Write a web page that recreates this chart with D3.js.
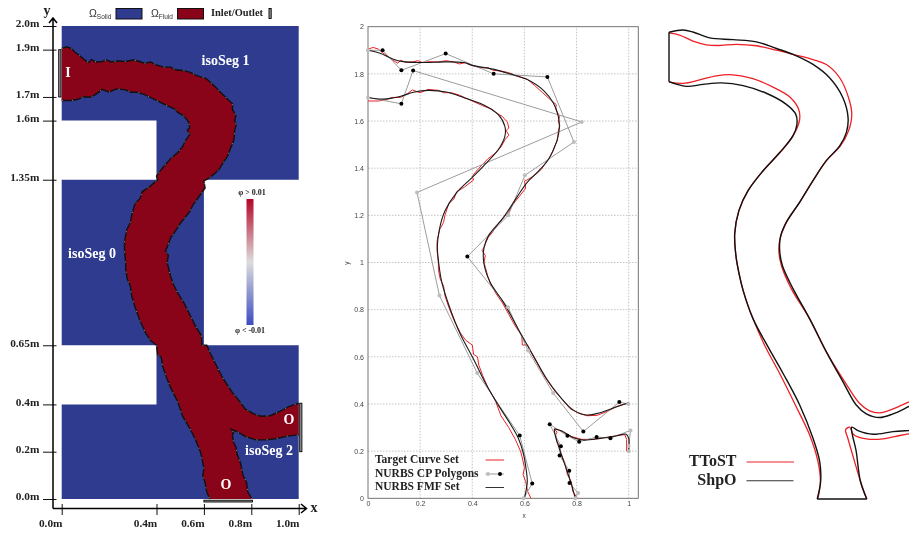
<!DOCTYPE html>
<html><head><meta charset="utf-8">
<script src="https://cdnjs.cloudflare.com/ajax/libs/d3/7.8.5/d3.min.js"></script>
<style>html,body{margin:0;padding:0;background:#fff}svg{display:block;filter:blur(0.3px)}</style>
</head><body><svg id="c" width="909" height="534"></svg>
<script>
// ---------- data (all in domain units) ----------
const xTicksDomain = [0, 0.4, 0.6, 0.8, 1.0];
const yTicksDomain = [0, 0.2, 0.4, 0.65, 1.35, 1.6, 1.7, 1.9, 2.0];
const gridTicksX = [0, 0.2, 0.4, 0.6, 0.8, 1];
const gridTicksY = [0, 0.2, 0.4, 0.6, 0.8, 1, 1.2, 1.4, 1.6, 1.8, 2];

const solidOutline = [[0,2],[1,2],[1,1.35],[0.6,1.35],[0.6,0.65],[1,0.65],[1,0],[0,0],[0,0.4],[0.4,0.4],[0.4,0.65],[0,0.65],[0,1.35],[0.4,1.35],[0.4,1.6],[0,1.6]];

// target (jagged) level-set contours
const targetSeg1 = [[0,1.905],[0.02,1.912],[0.04,1.905],[0.055,1.89],[0.075,1.875],[0.095,1.858],[0.115,1.845],[0.125,1.858],[0.145,1.848],[0.17,1.85],[0.19,1.856],[0.21,1.848],[0.235,1.852],[0.27,1.85],[0.3,1.856],[0.33,1.85],[0.35,1.842],[0.375,1.848],[0.4,1.835],[0.43,1.826],[0.46,1.826],[0.48,1.815],[0.51,1.812],[0.54,1.805],[0.57,1.79],[0.61,1.778],[0.64,1.75],[0.67,1.72],[0.7,1.69],[0.722,1.67],[0.72,1.65],[0.735,1.62],[0.73,1.6],[0.736,1.58],[0.73,1.56],[0.727,1.52],[0.715,1.49],[0.7,1.45],[0.68,1.42],[0.665,1.395],[0.645,1.375],[0.625,1.36],[0.61,1.35],[0.6,1.345],[0.605,1.315],[0.58,1.28],[0.555,1.245],[0.54,1.215],[0.52,1.19],[0.5,1.165],[0.475,1.125],[0.46,1.105],[0.445,1.065],[0.438,1.05],[0.45,1.03],[0.445,1.0],[0.45,0.98],[0.46,0.94],[0.47,0.91],[0.49,0.87],[0.515,0.83],[0.54,0.78],[0.565,0.73],[0.59,0.69],[0.592,0.65],[0.612,0.65],[0.63,0.61],[0.65,0.57],[0.675,0.52],[0.7,0.48],[0.72,0.45],[0.745,0.42],[0.775,0.38],[0.81,0.36],[0.84,0.35],[0.88,0.352],[0.92,0.37],[0.96,0.392],[1,0.405]];
const targetSeg0 = [[0,1.685],[0.04,1.685],[0.07,1.69],[0.09,1.7],[0.125,1.7],[0.15,1.715],[0.17,1.732],[0.2,1.72],[0.23,1.734],[0.27,1.73],[0.29,1.72],[0.32,1.72],[0.35,1.71],[0.4,1.685],[0.44,1.665],[0.475,1.65],[0.49,1.635],[0.515,1.62],[0.535,1.595],[0.54,1.57],[0.53,1.56],[0.54,1.54],[0.525,1.52],[0.51,1.49],[0.49,1.465],[0.46,1.44],[0.43,1.405],[0.41,1.38],[0.4,1.365],[0.405,1.35],[0.37,1.32],[0.34,1.3],[0.33,1.27],[0.31,1.25],[0.295,1.2],[0.29,1.17],[0.275,1.14],[0.265,1.09],[0.265,1.05],[0.27,1.0],[0.27,0.97],[0.277,0.93],[0.29,0.9],[0.295,0.86],[0.31,0.81],[0.33,0.755],[0.355,0.7],[0.375,0.67],[0.4,0.65],[0.405,0.61],[0.42,0.6],[0.425,0.565],[0.44,0.52],[0.46,0.47],[0.49,0.41],[0.51,0.35],[0.54,0.3],[0.565,0.25],[0.585,0.2],[0.59,0.18],[0.6,0.13],[0.595,0.1],[0.605,0.07],[0.612,0.03],[0.625,0]];
const targetSeg2 = [[0.803,0],[0.785,0.03],[0.78,0.07],[0.765,0.1],[0.755,0.15],[0.74,0.19],[0.735,0.22],[0.725,0.24],[0.72,0.27],[0.725,0.28],[0.715,0.295],[0.74,0.285],[0.78,0.262],[0.82,0.25],[0.86,0.25],[0.9,0.255],[0.95,0.265],[0.985,0.27],[0.992,0.25],[0.992,0.2]];

// NURBS fitted curves
const fmfSeg1 = [[0,1.9],[0.046,1.887],[0.097,1.862],[0.135,1.852],[0.2,1.848],[0.3,1.851],[0.366,1.848],[0.404,1.835],[0.48,1.82],[0.545,1.8],[0.609,1.777],[0.673,1.73],[0.711,1.676],[0.73,1.62],[0.734,1.57],[0.724,1.514],[0.692,1.437],[0.647,1.38],[0.609,1.338],[0.57,1.275],[0.519,1.19],[0.462,1.113],[0.445,1.063],[0.444,1.0],[0.468,0.917],[0.519,0.832],[0.59,0.69],[0.634,0.605],[0.685,0.507],[0.737,0.43],[0.788,0.374],[0.839,0.353],[0.89,0.363],[0.954,0.388],[1,0.405]];
const fmfSeg0 = [[0,1.7],[0.059,1.693],[0.123,1.704],[0.174,1.722],[0.231,1.73],[0.3,1.723],[0.366,1.7],[0.442,1.669],[0.5,1.627],[0.525,1.577],[0.525,1.535],[0.5,1.479],[0.442,1.408],[0.398,1.359],[0.34,1.296],[0.295,1.218],[0.274,1.141],[0.266,1.07],[0.271,1.0],[0.283,0.917],[0.315,0.804],[0.353,0.699],[0.404,0.592],[0.455,0.479],[0.5,0.395],[0.545,0.317],[0.577,0.254],[0.596,0.19],[0.606,0.127],[0.611,0.07],[0.6,0]];
const fmfSeg2 = [[0.795,0],[0.779,0.064],[0.76,0.127],[0.734,0.21],[0.718,0.268],[0.716,0.293],[0.742,0.286],[0.786,0.258],[0.825,0.247],[0.89,0.254],[0.954,0.265],[0.99,0.272],[1,0.254],[1,0.2]];

// control polygons: x, y, 1 when the control point is drawn black
const cpSeg1 = [[0,1.9,0],[0.056,1.9,1],[0.128,1.815,1],[0.298,1.886,1],[0.482,1.8,1],[0.688,1.787,1],[0.79,1.511,0],[0.602,1.37,0],[0.538,1.2,0],[0.381,1.025,1],[0.537,0.81,0],[0.614,0.627,0],[0.71,0.447,0],[0.826,0.283,1],[0.964,0.408,1],[0.998,0.4,0]];
const cpSeg0 = [[0,1.7,0],[0.128,1.673,1],[0.173,1.814,1],[0.82,1.596,0],[0.188,1.297,0],[0.274,0.86,0],[0.419,0.531,0],[0.582,0.266,1],[0.63,0.063,1],[0.597,0,0]];
const cpSeg2 = [[0.795,0,0],[0.806,0.022,0],[0.773,0.065,1],[0.772,0.117,1],[0.735,0.182,1],[0.74,0.221,1],[0.697,0.314,1],[0.765,0.265,1],[0.81,0.24,1],[0.877,0.26,1],[0.93,0.255,1],[1.007,0.288,0],[1.0,0.222,0],[1.0,0.2,0]];

// optimised shapes
const shpoTop = [[0,1.895],[0.057,1.904],[0.097,1.896],[0.165,1.872],[0.259,1.865],[0.354,1.856],[0.435,1.829],[0.502,1.805],[0.583,1.764],[0.65,1.71],[0.704,1.629],[0.725,1.548],[0.718,1.487],[0.691,1.433],[0.637,1.373],[0.583,1.292],[0.529,1.204],[0.475,1.123],[0.451,1.062],[0.448,1.008],[0.459,0.947],[0.502,0.853],[0.569,0.731],[0.637,0.596],[0.704,0.475],[0.758,0.38],[0.799,0.344],[0.853,0.329],[0.907,0.344],[0.97,0.373],[1.01,0.392]];
const shpoLow = [[0,1.694],[0.07,1.675],[0.138,1.683],[0.212,1.689],[0.3,1.678],[0.394,1.647],[0.475,1.602],[0.513,1.562],[0.518,1.521],[0.502,1.474],[0.448,1.406],[0.381,1.332],[0.32,1.251],[0.283,1.17],[0.266,1.076],[0.27,0.995],[0.277,0.947],[0.3,0.846],[0.34,0.731],[0.401,0.616],[0.462,0.508],[0.529,0.38],[0.583,0.245],[0.61,0.151],[0.614,0.07],[0.6,-0.002]];
const shpoRight = [[0.801,-0.002],[0.775,0.07],[0.758,0.191],[0.74,0.29],[0.765,0.276],[0.826,0.261],[0.907,0.272],[0.97,0.276],[1.01,0.278]];
const shpoInlet = [[0,1.895],[0,1.694]];
const shpoOutlet = [[0.6,-0.002],[0.801,-0.002]];
const ttostTop = [[0,1.892],[0.043,1.883],[0.097,1.859],[0.151,1.844],[0.198,1.841],[0.273,1.846],[0.354,1.84],[0.435,1.822],[0.502,1.805],[0.583,1.784],[0.637,1.764],[0.691,1.71],[0.727,1.629],[0.74,1.562],[0.727,1.494],[0.694,1.433],[0.637,1.373],[0.583,1.292],[0.529,1.204],[0.472,1.116],[0.448,1.049],[0.445,1.002],[0.455,0.947],[0.495,0.853],[0.569,0.731],[0.637,0.596],[0.711,0.475],[0.771,0.387],[0.812,0.356],[0.853,0.348],[0.907,0.364],[0.97,0.392],[1.01,0.41]];
const ttostLow = [[0,1.692],[0.057,1.687],[0.124,1.701],[0.192,1.718],[0.259,1.722],[0.34,1.706],[0.421,1.672],[0.489,1.632],[0.525,1.582],[0.529,1.541],[0.513,1.494],[0.462,1.42],[0.381,1.332],[0.32,1.251],[0.283,1.17],[0.266,1.076],[0.27,0.995],[0.277,0.947],[0.3,0.846],[0.34,0.731],[0.387,0.623],[0.448,0.508],[0.515,0.373],[0.569,0.259],[0.603,0.151],[0.613,0.07],[0.603,0]];
const ttostRight = [[0.799,0],[0.775,0.07],[0.751,0.151],[0.724,0.245],[0.715,0.279],[0.731,0.29],[0.748,0.259],[0.799,0.242],[0.866,0.242],[0.934,0.256],[0.97,0.263],[1.01,0.27]];

const colorbarStops = [[0,"#3b4cc0"],[0.5,"#dddddd"],[1,"#b40426"]];

// ---------- drawing ----------
const svg = d3.select("#c");
const SERIF = "'Liberation Serif',serif", SANS = "'Liberation Sans',sans-serif";
const BLUE = "#2e3b8e", CRIM = "#8a0419", RED = "#ee2025";
const defs = svg.append("defs");

function txt(g,x,y,s,o={}){
  return g.append("text").attr("x",x).attr("y",y).text(s)
   .attr("font-family",o.ff||SERIF).attr("font-weight",o.w||"bold").attr("font-size",o.fs||10)
   .attr("fill",o.c||"#222").attr("text-anchor",o.a||"start").attr("dominant-baseline","middle");
}

// ===== Panel A =====
const xA = d3.scaleLinear().domain([0,1]).range([61.7,298.7]);
const yA = d3.scaleLinear().domain([0,2]).range([499,26]);
const A = svg.append("g");
const lineA = d3.line().x(d=>xA(d[0])).y(d=>yA(d[1]));
A.append("path").attr("d",lineA(solidOutline)+"Z").attr("fill",BLUE);
const fluid = targetSeg1.concat([[1,0.27]], targetSeg2.slice(0,-2).reverse(), targetSeg0.slice().reverse());
A.append("path").attr("d",lineA(fluid)+"Z").attr("fill",CRIM);
[targetSeg0,targetSeg1,targetSeg2.slice(0,-2).concat([[1,0.27]])].forEach(s=>{
  A.append("path").attr("d",lineA(s)).attr("fill","none").attr("stroke","#111").attr("stroke-width",1.4);
  A.append("path").attr("d",lineA(s)).attr("fill","none").attr("stroke","#8a8a8a").attr("stroke-width",1)
    .attr("stroke-dasharray","1.2 9");
});
// inlet/outlet bars
const bar=(x,y,w,h)=>A.append("rect").attr("x",x).attr("y",y).attr("width",w).attr("height",h)
  .attr("fill","#999").attr("stroke","#000").attr("stroke-width",0.9);
bar(xA(0)-3,yA(1.9),2.2,yA(1.7)-yA(1.9));
bar(xA(1)+1,yA(0.405),2.2,yA(0.2)-yA(0.405));
bar(xA(0.6),yA(0)+1.2,xA(0.805)-xA(0.6),1.8);
// axes
const axY = d3.axisLeft(yA).tickValues(yTicksDomain).tickSize(0).tickFormat(d=>d3.format(".2~f")(d).replace(/^(\d)$/,"$1.0")+"m");
const gy = A.append("g").attr("transform","translate(53,0)").call(axY);
gy.select(".domain").remove();
gy.selectAll(".tick line").attr("x1",-10).attr("x2",3.5).attr("stroke","#111").attr("stroke-width",1);
gy.selectAll(".tick text").attr("x",-13.7).attr("y",-2.7).attr("font-family",SERIF).attr("font-weight","bold").attr("font-size",11.3).attr("fill","#222");
const axX = d3.axisBottom(xA).tickValues(xTicksDomain).tickSize(0).tickFormat(d=>d3.format(".1f")(d)+"m");
const gx = A.append("g").attr("transform","translate(0,508.5)").call(axX);
gx.select(".domain").remove();
gx.selectAll(".tick line").attr("y1",-4.5).attr("y2",6.5).attr("stroke","#111").attr("stroke-width",1);
gx.selectAll(".tick text").attr("x",-11.5).attr("y",10).attr("font-family",SERIF).attr("font-weight","bold").attr("font-size",11.3).attr("fill","#222");
A.append("path").attr("d","M53,508.5V18M49,23L53,18L57,23M53,508.5H306M301,504L306.5,508.5L301,513")
  .attr("fill","none").attr("stroke","#000").attr("stroke-width",1.5);
txt(A,47,12,"y",{fs:14,a:"middle"}); txt(A,314,509,"x",{fs:14,a:"middle"});
// region labels
[["I",68,74],["O",289,421],["O",226,486]].forEach(d=>txt(A,d[1],d[2],d[0],{fs:14,c:"#fff",a:"middle"}));
[["isoSeg 1",225.5,62],["isoSeg 0",92,255],["isoSeg 2",269,451.5]].forEach(d=>txt(A,d[1],d[2],d[0],{fs:14,c:"#fff",a:"middle"}));
// top legend
const om=(x,s)=>{const t=txt(A,x,14,"Ω",{ff:SANS,w:"normal",fs:10.5,c:"#333"});
  t.append("tspan").attr("font-size",6.5).attr("dy",2.5).text(s);};
om(89,"Solid"); om(151,"Fluid");
A.append("rect").attr("x",116).attr("y",8.5).attr("width",26).attr("height",10.5).attr("fill",BLUE).attr("stroke","#111");
A.append("rect").attr("x",177.5).attr("y",8.5).attr("width",26).attr("height",10.5).attr("fill",CRIM).attr("stroke","#111");
txt(A,211,14,"Inlet/Outlet",{fs:10.4});
A.append("rect").attr("x",269).attr("y",8.5).attr("width",2.2).attr("height",10).attr("fill","#999").attr("stroke","#000").attr("stroke-width",0.9);
// colour bar
const grad = defs.append("linearGradient").attr("id","cb").attr("x1",0).attr("x2",0).attr("y1",1).attr("y2",0);
colorbarStops.forEach(s=>grad.append("stop").attr("offset",s[0]).attr("stop-color",s[1]));
A.append("rect").attr("x",246.5).attr("y",199).attr("width",7).attr("height",126).attr("fill","url(#cb)");
txt(A,252,193,"φ > 0.01",{fs:8,a:"middle"});
txt(A,250,331,"φ < -0.01",{fs:8,a:"middle"});

// ===== Panel B =====
const xB = d3.scaleLinear().domain([0,1]).range([368,628.7]);
const yB = d3.scaleLinear().domain([0,2]).range([498.3,26.7]);
const B = svg.append("g");
const bR = 638.3;
B.append("g").selectAll("line.gx").data(gridTicksX.slice(1)).join("line")
  .attr("x1",d=>xB(d)).attr("x2",d=>xB(d)).attr("y1",yB(0)).attr("y2",yB(2))
  .attr("stroke","#aaa").attr("stroke-width",0.7).attr("stroke-dasharray","1.5 1.5");
B.append("g").selectAll("line.gy").data(gridTicksY.slice(1,-1)).join("line")
  .attr("x1",xB(0)).attr("x2",bR).attr("y1",d=>yB(d)).attr("y2",d=>yB(d))
  .attr("stroke","#aaa").attr("stroke-width",0.7).attr("stroke-dasharray","1.5 1.5");
B.append("rect").attr("x",xB(0)).attr("y",yB(2)).attr("width",bR-xB(0)).attr("height",yB(0)-yB(2))
  .attr("fill","none").attr("stroke","#666").attr("stroke-width",0.9);
const bAxY = d3.axisLeft(yB).tickValues(gridTicksY).tickSize(0).tickPadding(4).tickFormat(d3.format("~g"));
const gby = B.append("g").attr("transform",`translate(${xB(0)},0)`).call(bAxY);
gby.select(".domain").remove();
gby.selectAll("text").attr("font-family",SANS).attr("font-size",7).attr("fill","#444");
const bAxX = d3.axisBottom(xB).tickValues(gridTicksX).tickSize(0).tickPadding(3).tickFormat(d3.format("~g"));
const gbx = B.append("g").attr("transform",`translate(0,${yB(0)})`).call(bAxX);
gbx.select(".domain").remove();
gbx.selectAll("text").attr("font-family",SANS).attr("font-size",7).attr("fill","#444");
txt(B,524,516,"x",{ff:SANS,w:"normal",fs:6.5,c:"#444",a:"middle"});
txt(B,0,0,"y",{ff:SANS,w:"normal",fs:6.5,c:"#444",a:"middle"}).attr("transform","translate(347,263) rotate(-90)");
const lineB = d3.line().x(d=>xB(d[0])).y(d=>yB(d[1]));
const smoothB = d3.line().x(d=>xB(d[0])).y(d=>yB(d[1])).curve(d3.curveCatmullRom.alpha(0.5));
[targetSeg0,targetSeg1,targetSeg2].forEach(s=>B.append("path").attr("d",lineB(s)).attr("fill","none").attr("stroke",RED).attr("stroke-width",1));
[cpSeg0,cpSeg1,cpSeg2].forEach(s=>B.append("path").attr("d",lineB(s)).attr("fill","none").attr("stroke","#9c9c9c").attr("stroke-width",1));
[fmfSeg0,fmfSeg1,fmfSeg2].forEach(s=>B.append("path").attr("d",smoothB(s)).attr("fill","none").attr("stroke","#1a1a1a").attr("stroke-width",1.1));
[cpSeg0,cpSeg1,cpSeg2].forEach(s=>B.append("g").selectAll("circle").data(s).join("circle")
  .attr("cx",d=>xB(d[0])).attr("cy",d=>yB(d[1])).attr("r",2).attr("fill",d=>d[2]?"#000":"#bdbdbd"));
// legend
[["Target Curve Set",460],["NURBS CP Polygons",474],["NURBS FMF Set",487.5]].forEach(d=>txt(B,375,d[1],d[0],{fs:11.5}));
const ll=(y,c)=>B.append("line").attr("x1",485.5).attr("x2",504).attr("y1",y).attr("y2",y).attr("stroke",c).attr("stroke-width",1);
ll(460,RED); ll(474,"#9c9c9c"); ll(487.5,"#333");
B.append("circle").attr("cx",488).attr("cy",474).attr("r",2).attr("fill","#bdbdbd");
B.append("circle").attr("cx",500).attr("cy",474).attr("r",2).attr("fill","#000");

// ===== Panel C =====
const xC = d3.scaleLinear().domain([0,1]).range([669,916]);
const yC = d3.scaleLinear().domain([0,1.9]).range([498.5,31]);
const C = svg.append("g");
const smoothC = d3.line().x(d=>xC(d[0])).y(d=>yC(d[1])).curve(d3.curveCatmullRom.alpha(0.5));
[ttostTop,ttostLow,ttostRight].forEach(s=>C.append("path").attr("d",smoothC(s)).attr("fill","none").attr("stroke",RED).attr("stroke-width",1.3));
[shpoTop,shpoLow,shpoRight,shpoInlet,shpoOutlet].forEach(s=>C.append("path").attr("d",smoothC(s)).attr("fill","none").attr("stroke","#111").attr("stroke-width",1.4));
txt(C,736.5,462.5,"TToST",{fs:16,a:"end"});
txt(C,736.5,481,"ShpO",{fs:16,a:"end"});
C.append("line").attr("x1",746.5).attr("x2",794).attr("y1",462).attr("y2",462).attr("stroke",RED).attr("stroke-width",1.1);
C.append("line").attr("x1",746.5).attr("x2",793.5).attr("y1",480.7).attr("y2",480.7).attr("stroke","#333").attr("stroke-width",1.1);
</script></body></html>
